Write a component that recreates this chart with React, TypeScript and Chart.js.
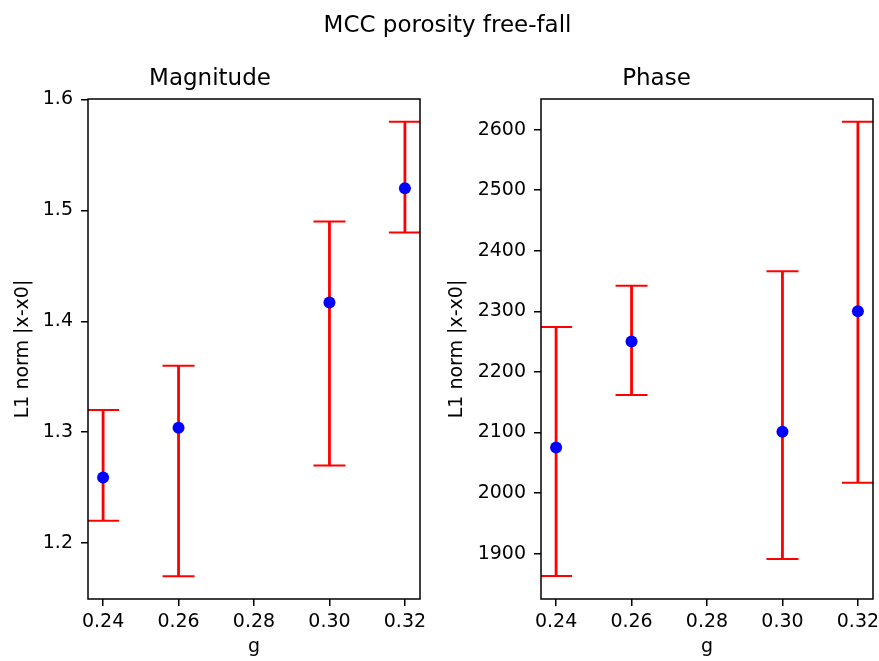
import React, { useEffect, useRef } from 'react';
import { Chart, registerables } from 'chart.js';

Chart.register(...registerables);

// ---- data ----
const gValues = [0.24, 0.26, 0.30, 0.32];

const magnitudeMean = [1.259, 1.304, 1.417, 1.520];
const magnitudeLow = [1.22, 1.17, 1.27, 1.48];
const magnitudeHigh = [1.32, 1.36, 1.49, 1.58];

const phaseMean = [2075, 2250, 2101, 2300];
const phaseLow = [1863, 2162, 1891, 2017];
const phaseHigh = [2274, 2342, 2366, 2613];

const xTicks = [0.24, 0.26, 0.28, 0.30, 0.32];
const magnitudeTicks = [1.2, 1.3, 1.4, 1.5, 1.6];
const phaseTicks = [1900, 2000, 2100, 2200, 2300, 2400, 2500, 2600];

const FONT = 'DejaVu Sans';

function errorBarPoints(x: number[], low: number[], high: number[]) {
  const out: any[] = [];
  x.forEach((xv, i) => {
    out.push({ x: xv, y: low[i] });
    out.push({ x: xv, y: high[i] });
    out.push({ x: xv, y: null });
  });
  return out;
}

const framePlugin = {
  id: 'frame',
  afterDraw(chart: any) {
    const { ctx, chartArea } = chart;
    ctx.save();
    ctx.strokeStyle = '#000';
    ctx.lineWidth = 1.5;
    ctx.strokeRect(chartArea.left, chartArea.top, chartArea.right - chartArea.left, chartArea.bottom - chartArea.top);
    ctx.restore();
  },
};

interface PanelProps {
  title: string;
  mean: number[];
  low: number[];
  high: number[];
  yMin: number;
  yMax: number;
  yTicks: number[];
  yDecimals: number;
  yAxisWidth: number;
  yTitlePad: number;
  rightPad: number;
  width: number;
  height: number;
  left: number;
}

function Panel(p: PanelProps) {
  const ref = useRef<HTMLCanvasElement>(null);
  useEffect(() => {
    if (!ref.current) return;
    const chart = new Chart(ref.current, {
      type: 'scatter',
      data: {
        datasets: [
          {
            label: 'mean',
            data: gValues.map((g, i) => ({ x: g, y: p.mean[i] })),
            showLine: false,
            pointRadius: 6,
            pointBackgroundColor: '#0000ff',
            pointBorderWidth: 0,
            pointBorderColor: '#0000ff',
          },
          {
            label: 'range',
            data: errorBarPoints(gValues, p.low, p.high),
            showLine: true,
            spanGaps: false,
            borderColor: '#ff0000',
            borderWidth: 2.8,
            pointStyle: 'line',
            pointRadius: 16,
            pointBorderWidth: 2,
            pointBorderColor: '#ff0000',
            clip: 0,
          } as any,
        ],
      },
      options: {
        animation: false,
        responsive: false,
        events: [],
        layout: { autoPadding: false, padding: { left: 0, right: p.rightPad, top: 0, bottom: 0 } },
        plugins: {
          legend: { display: false },
          tooltip: { enabled: false },
          title: {
            display: true,
            text: p.title,
            color: '#000',
            font: { family: FONT, size: 23, weight: 'normal' as any, lineHeight: 1.2 },
            padding: { top: 65, bottom: 6.4 },
          },
        },
        scales: {
          x: {
            type: 'linear',
            min: 0.236,
            max: 0.324,
            afterBuildTicks: (scale: any) => {
              scale.ticks = xTicks.map((v) => ({ value: v }));
            },
            afterFit: (scale: any) => {
              scale.height = 62;
              scale.paddingLeft = 0;
              scale.paddingRight = 0;
            },
            ticks: {
              color: '#000',
              font: { family: FONT, size: 19 },
              padding: 5,
              maxRotation: 0,
              autoSkip: false,
              callback: (v: any) => Number(v).toFixed(2),
            },
            grid: {
              display: true,
              drawOnChartArea: false,
              drawTicks: true,
              tickLength: 7,
              color: '#000',
              tickColor: '#000',
              lineWidth: 1.5,
            },
            border: { display: false },
            title: {
              display: true,
              text: 'g',
              color: '#000',
              font: { family: FONT, size: 19, lineHeight: 1.2 },
              padding: { top: 0, bottom: 3 },
            },
          },
          y: {
            type: 'linear',
            min: p.yMin,
            max: p.yMax,
            afterBuildTicks: (scale: any) => {
              scale.ticks = p.yTicks.map((v) => ({ value: v }));
            },
            afterFit: (scale: any) => {
              scale.width = p.yAxisWidth;
              scale.paddingTop = 0;
              scale.paddingBottom = 0;
            },
            ticks: {
              color: '#000',
              font: { family: FONT, size: 19 },
              padding: 8,
              autoSkip: false,
              callback: (v: any) => Number(v).toFixed(p.yDecimals),
            },
            grid: {
              display: true,
              drawOnChartArea: false,
              drawTicks: true,
              tickLength: 7,
              color: '#000',
              tickColor: '#000',
              lineWidth: 1.5,
            },
            border: { display: false },
            title: {
              display: true,
              text: 'L1 norm |x-x0|',
              color: '#000',
              font: { family: FONT, size: 19, lineHeight: 1.2 },
              padding: { top: p.yTitlePad, bottom: 0 },
            },
          },
        },
      },
      plugins: [framePlugin],
    });
    return () => chart.destroy();
  }, []);
  return (
    <canvas
      ref={ref}
      width={p.width}
      height={p.height}
      style={{ position: 'absolute', left: p.left, top: 0, width: p.width, height: p.height }}
    />
  );
}

export default function App() {
  return (
    <div style={{ position: 'absolute', left: 0, top: 0, width: 879, height: 661, background: '#fff', overflow: 'hidden' }}>
      <Panel
        title="Magnitude"
        mean={magnitudeMean}
        low={magnitudeLow}
        high={magnitudeHigh}
        yMin={1.1495}
        yMax={1.6005}
        yTicks={magnitudeTicks}
        yDecimals={1}
        yAxisWidth={88}
        yTitlePad={12}
        rightPad={20}
        width={440}
        height={661}
        left={0}
      />
      <Panel
        title="Phase"
        mean={phaseMean}
        low={phaseLow}
        high={phaseHigh}
        yMin={1825}
        yMax={2650.5}
        yTicks={phaseTicks}
        yDecimals={0}
        yAxisWidth={101}
        yTitlePad={5.6}
        rightPad={6}
        width={439}
        height={661}
        left={440}
      />
      <div
        style={{
          position: 'absolute',
          left: 0,
          top: 13,
          width: 895,
          textAlign: 'center',
          fontFamily: FONT,
          fontSize: 23,
          lineHeight: '23px',
          color: '#000',
          whiteSpace: 'nowrap',
        }}
      >
        MCC porosity free-fall
      </div>
    </div>
  );
}
